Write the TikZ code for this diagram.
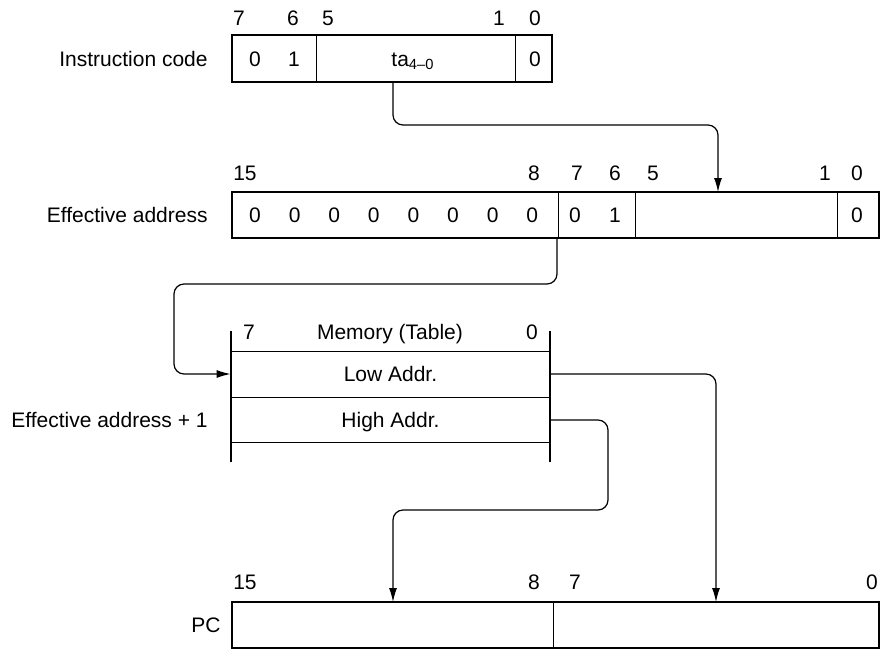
\documentclass[tikz,border=0pt]{standalone}
\usepackage{fontspec}
\setmainfont{Liberation Sans}
\usepackage{tikz}
\usetikzlibrary{arrows.meta}

\begin{document}
\begin{tikzpicture}[x=0.5pt, y=-0.5pt,
                    font=\fontsize{10.5}{12}\selectfont,
                    txt/.style={inner sep=0pt, text height=7.5pt, text depth=0pt},
                    reg/.style={draw, line width=1.3pt, inner sep=0pt, minimum height=23pt},
                    sep/.style={line width=0.5pt},
                    link/.style={line width=0.6pt, rounded corners=5pt},
                    tip/.style={-{Latex[length=7pt, width=4pt]}}]
                    \useasboundingbox (0,0) rectangle (880,650);

                    \node[reg, minimum width=160pt, minimum height=23.5pt] (ic) at (392,58.5) {};
                    \node[txt, anchor=east] (ic-name) at (208,59) {Instruction code};
                    \draw[sep] (316,35) -- (316,82) (515,35) -- (515,82);
                    \foreach \x/\b in {239/7, 293/6, 328/5, 499/1, 535/0}
                        \node[txt] (ic-n\b) at (\x,17.5) {\b};
                    \node[txt] (ic-b7) at (255,59) {0};
                    \node[txt] (ic-b6) at (294,59) {1};
                    \node[txt] (ic-ta) at (413,59) {ta\textsubscript{4--0}};
                    \node[txt] (ic-b0) at (535,59) {0};

                    \node[reg, minimum width=323.5pt] (ea) at (555.5,215) {};
                    \node[txt, anchor=east] (ea-name) at (208,215) {Effective address};
                    \draw[sep] (558,192) -- (558,238) (635,192) -- (635,238) (837,192) -- (837,238);
                    \foreach \x/\b in {245/15, 534/8, 577/7, 615/6, 653/5, 825/1, 857/0}
                        \node[txt] (ea-n\b) at (\x,173) {\b};
                    \foreach \i in {0,...,7}
                        \node[txt] (ea-z\i) at ({255+39.6*\i},215) {0};
                    \node[txt] (ea-b7) at (575,215) {0};
                    \node[txt] (ea-b6) at (615,215) {1};
                    \node[txt] (ea-b0) at (857,215) {0};

                    \draw[line width=1pt] (231,331) -- (231,462) (550,331) -- (550,462);
                    \draw[sep] (231,351) -- (550,351) (231,397) -- (550,397) (231,442) -- (550,442);
                    \node[txt] (mem-n7) at (249,332) {7};
                    \node[txt] (mem) at (390,332) {Memory (Table)};
                    \node[txt] (mem-n0) at (532,332) {0};
                    \node[txt, minimum width=159.5pt] (low) at (390.5,374) {Low Addr.};
                    \node[txt, minimum width=159.5pt] (high) at (390.5,420) {High Addr.};
                    \node[txt, anchor=east] (high-name) at (208,420) {Effective address + 1};

                    \node[reg, minimum width=323.5pt] (pc) at (555.5,625) {};
                    \node[txt, anchor=east] (pc-name) at (221,625) {PC};
                    \draw[sep] (553,602) -- (553,648);
                    \foreach \x/\b in {245/15, 534/8, 575/7, 872/0}
                        \node[txt] (pc-n\b) at (\x,582) {\b};

                    \coordinate (ta-out) at (393,82);
                    \coordinate (ea-in) at (718,192);
                    \coordinate (ea-out) at (557,238);
                    \coordinate (pc-lo) at (716,602);
                    \coordinate (pc-hi) at (393,602);
                    \draw[link, tip] (ta-out) -- (393,125) -- (718,125) -- (ea-in);
                    \draw[link, tip] (ea-out) -- (557,284) -- (174,284) -- (174,374) -- (low.west);
                    \draw[link, tip] (low.east) -- (716,374) -- (pc-lo);
                    \draw[link, tip] (high.east) -- (608,420) -- (608,510) -- (393,510) -- (pc-hi);
                \end{tikzpicture}
\end{document}
